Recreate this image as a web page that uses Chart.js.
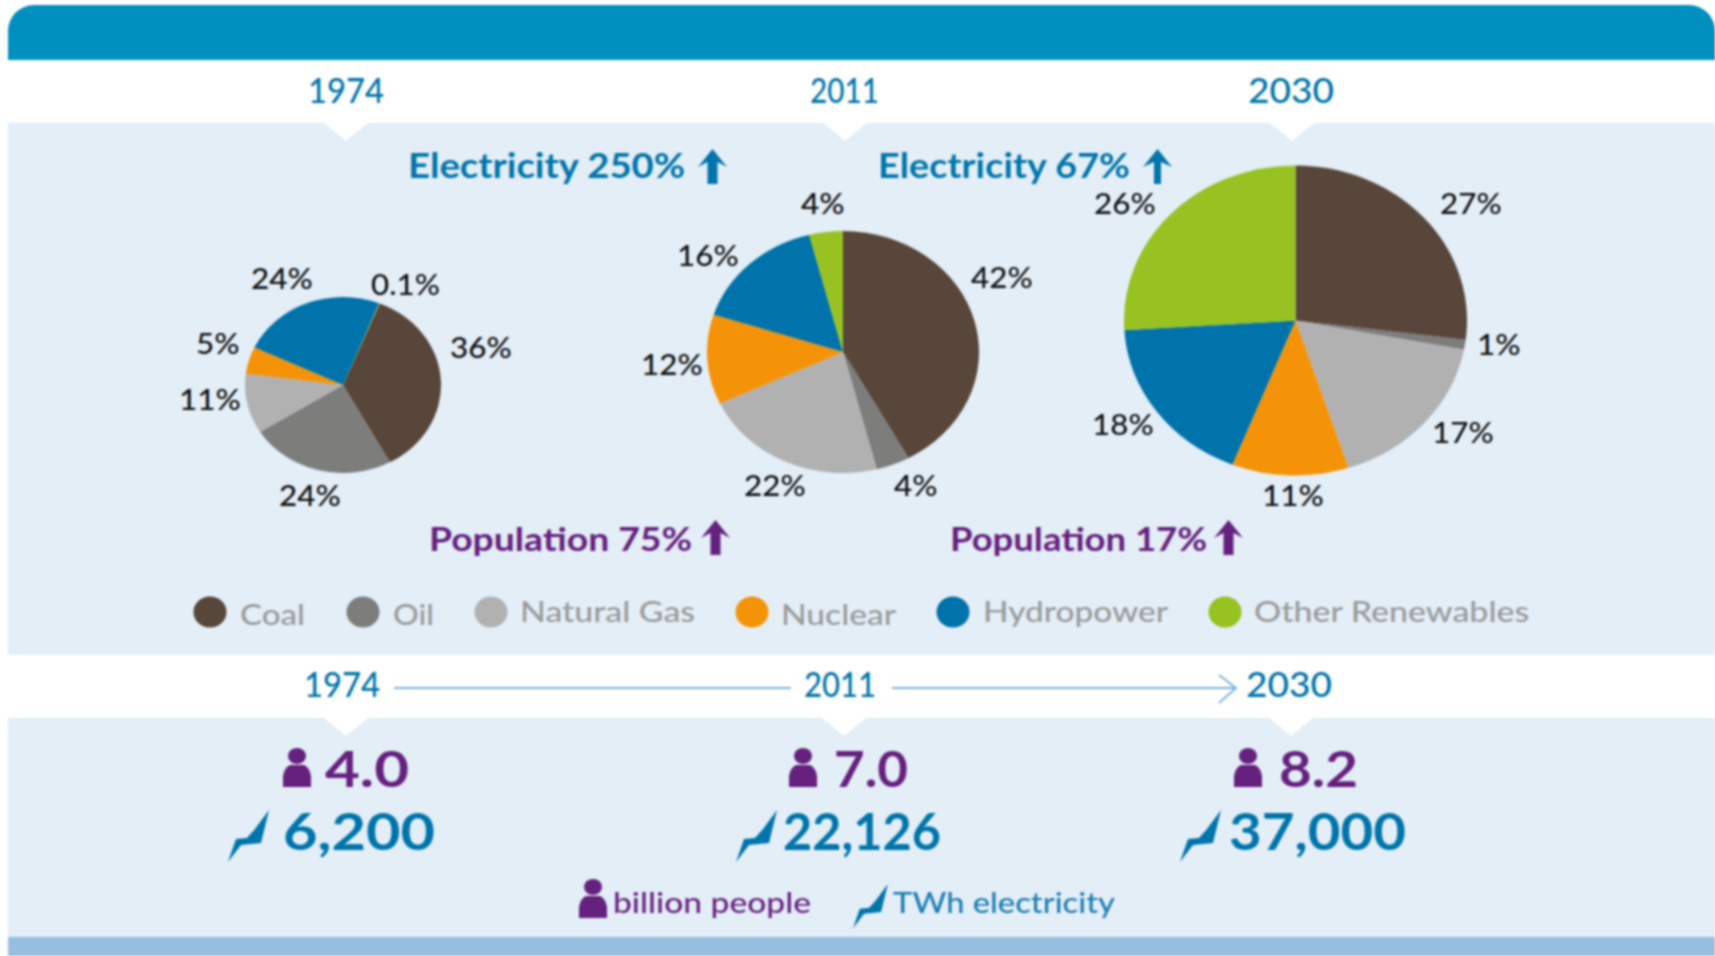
<!DOCTYPE html>
<html>
<head>
<meta charset="utf-8">
<script src="https://cdn.jsdelivr.net/npm/chart.js@4"></script>
<style>
  html, body { margin: 0; padding: 0; background: #fff; overflow: hidden; }
  #page { position: relative; width: 1715px; height: 956px; overflow: hidden; background: #fff; filter: blur(0.8px); font-family: Lato, sans-serif; }
  .band { position: absolute; left: 8px; right: 0; }
  .txt { position: absolute; white-space: nowrap; transform-origin: 0 0; }
  .pie { position: absolute; }
  svg { position: absolute; overflow: visible; }
</style>
</head>
<body>
<div id="page"></div>
<script>
const categories = ['Coal', 'Oil', 'Natural Gas', 'Nuclear', 'Hydropower', 'Other Renewables'];
const values1974 = [36, 24, 11, 5, 24, 0.1];
const values2011 = [42, 4, 22, 12, 16, 4];
const values2030 = [27, 1, 17, 11, 18, 26];
const years = ['1974', '2011', '2030'];
const population = ['4.0', '7.0', '8.2'];
const electricity = ['6,200', '22,126', '37,000'];
const electricityGrowth = ['Electricity 250%', 'Electricity 67%'];
const populationGrowth = ['Population 75%', 'Population 17%'];
const unitPeople = 'billion people';
const unitPower = 'TWh electricity';

const colors = ['#58463A', '#7D7D7C', '#B1B1B1', '#F49308', '#0073AA', '#97C221'];
const BLUE = '#0075AB', PURPLE = '#66217F', GREY = '#9A9A9A';

const page = document.getElementById('page');
const measure = document.createElement('canvas').getContext('2d');

function band(top, height, color, radius) {
  const d = document.createElement('div');
  d.className = 'band';
  d.style.cssText = `top:${top}px;height:${height}px;background:${color};border-radius:${radius || 0}`;
  page.appendChild(d);
}

// left/right are the ink extents, text gets squeezed to fit
function text(str, left, right, baseline, size, color, weight) {
  const font = `${weight} ${size}px Lato`;
  measure.font = font;
  const m = measure.measureText(str);
  const d = document.createElement('div');
  d.className = 'txt';
  d.textContent = str;
  d.style.font = font;
  d.style.color = color;
  d.style.left = left + 'px';
  d.style.top = (baseline - m.fontBoundingBoxAscent) + 'px';
  d.style.transform = `scaleX(${(right - left) / m.width})`;
  page.appendChild(d);
}

function centered(str, cx, baseline, size, color, weight) {
  measure.font = `${weight} ${size}px Lato`;
  const w = measure.measureText(str).width * 1.12;
  text(str, cx - w / 2, cx + w / 2, baseline, size, color, weight);
}

function svg(x, y, w, h, inner) {
  page.insertAdjacentHTML('beforeend',
    `<svg style="left:${x}px;top:${y}px" width="${w}" height="${h}" viewBox="0 0 ${w} ${h}">${inner}</svg>`);
}

function notch(cx, top) {
  svg(cx - 22, top, 44, 18, '<polygon points="0,0 44,0 22,18" fill="#fff"/>');
}

function arrowUp(x, y, color, shaft) {
  const a = 14.5 - shaft / 2, b = 14.5 + shaft / 2;
  svg(x, y, 29, 35, `<polygon fill="${color}" points="14.5,0 29,18 ${b},13 ${b},35 ${a},35 ${a},13 0,18"/>`);
}

function person(x, y, scale) {
  svg(x, y, 28 * scale, 39 * scale,
    `<g transform="scale(${scale})" fill="${PURPLE}"><ellipse cx="14" cy="8" rx="9" ry="8"/>` +
    '<path d="M0 39V28Q1 20 7 17H21Q27 20 28 28V39Z"/></g>');
}

function bolt(x, y, scale) {
  svg(x, y, 41 * scale, 52 * scale,
    `<polygon transform="scale(${scale})" fill="${BLUE}" points="0,52 8,29 19,28 27,19 41,0 33,33 13,35"/>`);
}

// background panels
band(5, 55, '#0090C0', '26px 26px 0 0');
band(123, 532, '#E3EEF7');
band(718, 219, '#E3EEF7');
band(937, 19, '#97BEDF');

[346, 845, 1292].forEach(cx => notch(cx, 123));
[346, 844, 1291].forEach(cx => notch(cx, 718));

// pies, chart.js only draws circles so the canvas gets flattened to the reference ellipse
function pie(values, cx, cy, w, h, rotation) {
  const c = document.createElement('canvas');
  c.className = 'pie';
  c.width = w;
  c.height = w;
  c.style.left = (cx - w / 2) + 'px';
  c.style.top = (cy - w / 2) + 'px';
  c.style.transform = `scaleY(${h / w})`;
  page.appendChild(c);
  new Chart(c, {
    type: 'pie',
    data: {
      labels: categories,
      datasets: [{ data: values, backgroundColor: colors, borderWidth: 0 }]
    },
    options: {
      responsive: false,
      animation: false,
      rotation: rotation,
      layout: { padding: 0 },
      plugins: { legend: { display: false }, tooltip: { enabled: false } }
    }
  });
}

pie(values1974, 343, 385, 196, 176, 22);
pie(values2011, 843, 351.5, 272, 242, 0);
pie(values2030, 1295.5, 320.5, 343, 310, 0);

// percent labels, same order as categories
const spots1974 = [[481, 348], [310, 496], [210, 400], [218, 344], [282, 279], [406, 285]];
const spots2011 = [[1002, 278], [916, 486], [775, 486], [672, 365], [708, 256], [823, 204]];
const spots2030 = [[1471, 204], [1499, 345], [1463, 433], [1293, 496], [1123, 425], [1125, 204]];
[[values1974, spots1974], [values2011, spots2011], [values2030, spots2030]].forEach(([vals, spots]) => {
  vals.forEach((v, i) => centered(v + '%', spots[i][0], spots[i][1] + 10, 28, '#111', 500));
});

// top years
text(years[0], 308, 384, 103, 34, BLUE, 500);
text(years[1], 810, 879, 103, 34, BLUE, 500);
text(years[2], 1248, 1334, 103, 34, BLUE, 500);

// growth captions
text(electricityGrowth[0], 408, 686, 178, 34, BLUE, 'bold');
arrowUp(698, 149, BLUE, 10);
text(electricityGrowth[1], 878, 1131, 178, 34, BLUE, 'bold');
arrowUp(1143, 149, BLUE, 7);
text(populationGrowth[0], 429, 692, 551, 33, PURPLE, 'bold');
arrowUp(701, 520, PURPLE, 10);
text(populationGrowth[1], 950, 1207, 551, 33, PURPLE, 'bold');
arrowUp(1214, 520, PURPLE, 10);

// legend
const legendDots = [209.5, 363, 491, 751.5, 952.5, 1225];
const legendText = [[240, 305, 625], [393, 434, 625], [520, 695, 622], [781, 896, 625], [983, 1168, 622], [1254, 1530, 622]];
categories.forEach((name, i) => {
  svg(legendDots[i] - 17, 596, 34, 32, `<ellipse cx="17" cy="16" rx="16.5" ry="15.5" fill="${colors[i]}"/>`);
  text(name, legendText[i][0], legendText[i][1], legendText[i][2], 29, GREY, 500);
});

// timeline
text(years[0], 304, 380, 697, 34, BLUE, 500);
text(years[1], 804, 876, 697, 34, BLUE, 500);
text(years[2], 1246, 1332, 697, 34, BLUE, 500);
svg(0, 0, 1715, 956,
  '<g stroke="#7DB4DC" stroke-width="2" fill="none">' +
  '<line x1="394" y1="688" x2="791" y2="688"/><line x1="892" y1="688" x2="1236" y2="688"/>' +
  '<polyline points="1219,675 1236,688 1219,703"/></g>');

// stats
const personSpots = [283, 789, 1234];
const popText = [[325, 409], [834, 908], [1279, 1358]];
const boltSpots = [228, 736, 1180];
const elecText = [[283, 435], [783, 941], [1229, 1406]];
years.forEach((y, i) => {
  person(personSpots[i], 748, 1);
  text(population[i], popText[i][0], popText[i][1], 787, 50, PURPLE, 'bold');
  bolt(boltSpots[i], 810, 1);
  text(electricity[i], elecText[i][0], elecText[i][1], 850, 51, BLUE, 'bold');
});

// unit key
person(579, 879, 1);
text(unitPeople, 613, 811, 913, 29, PURPLE, 500);
bolt(853, 884, 0.85);
text(unitPower, 893, 1115, 913, 29, '#1C7DB3', 500);
</script>
</body>
</html>
